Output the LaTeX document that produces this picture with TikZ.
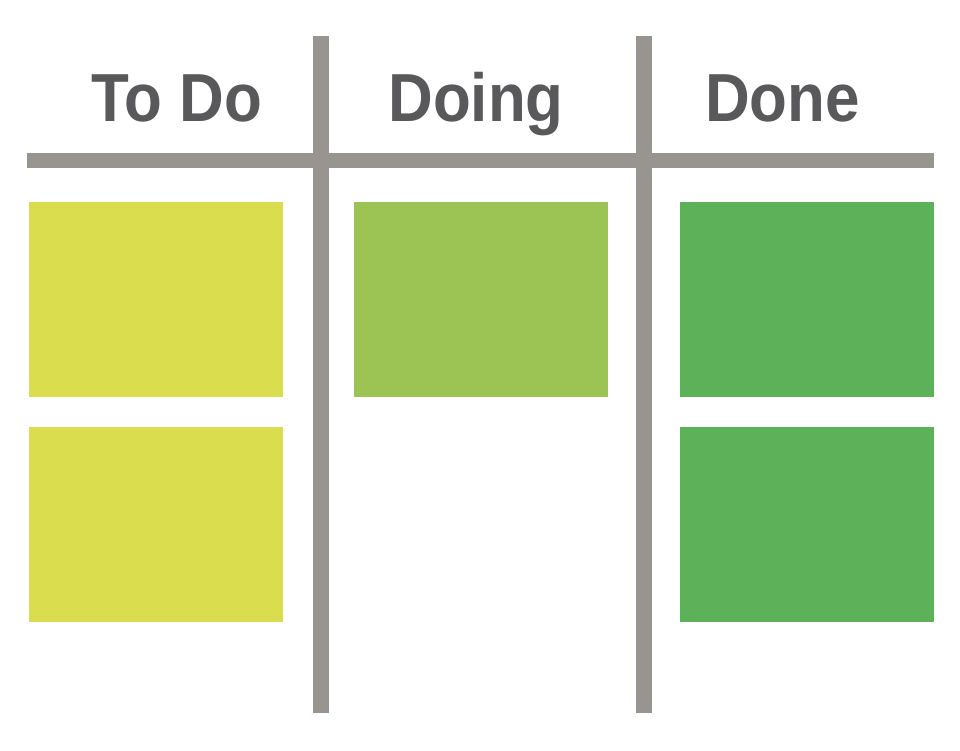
\documentclass[tikz,border=0pt]{standalone}
\usepackage{fontspec}
\setmainfont{Liberation Sans}
\definecolor{bargray}{HTML}{98948F}
\definecolor{txtgray}{HTML}{59595B}
\definecolor{todoc}{HTML}{DADE4E}
\definecolor{doingc}{HTML}{9CC454}
\definecolor{donec}{HTML}{5DB158}
\begin{document}
\begin{tikzpicture}[x=1pt,y=-1pt,
  bar/.style={fill=bargray,draw=none},
  note/.style={draw=none,minimum width=254pt,minimum height=195pt,inner sep=0pt,anchor=north west},
  head/.style={text=txtgray,font=\fontsize{68}{70}\selectfont\bfseries,anchor=base,inner sep=0pt}]
\useasboundingbox (0,0) rectangle (960,750);
\fill[white] (0,0) rectangle (960,750);
% bars
\fill[bar] (27,153) rectangle (934,168);
\fill[bar] (313,36) rectangle (329,713);
\fill[bar] (636,36) rectangle (652,713);
% headings
\node[head,xscale=0.91] (todo) at (177,121) {To Do};
\node[head,xscale=0.91] (doing) at (476,121) {Doing};
\node[head,xscale=0.91] (done) at (782.5,121) {Done};
% notes
\node[note,fill=todoc] (t1) at (29,202) {};
\node[note,fill=todoc] (t2) at (29,427) {};
\node[note,fill=doingc] (g1) at (354,202) {};
\node[note,fill=donec] (d1) at (680,202) {};
\node[note,fill=donec] (d2) at (680,427) {};
\end{tikzpicture}
\end{document}
